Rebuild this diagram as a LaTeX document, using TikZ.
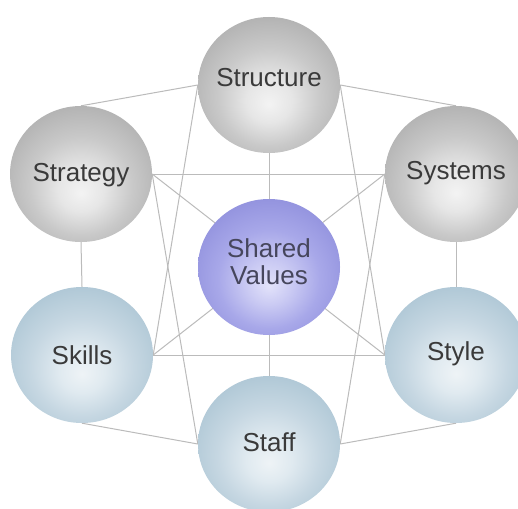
\documentclass[tikz,border=0pt]{standalone}
\usepackage{fontspec}
\setmainfont{Liberation Sans}
\usetikzlibrary{shapes.geometric,backgrounds}
\definecolor{gC}{HTML}{F3F3F3}\definecolor{gA}{HTML}{E6E6E6}\definecolor{gB}{HTML}{C9C9C9}\definecolor{gD}{HTML}{BABABA}\definecolor{gE}{HTML}{ABABAB}
\definecolor{pC}{HTML}{E2E2FA}\definecolor{pA}{HTML}{CACAF3}\definecolor{pB}{HTML}{A8A8E9}\definecolor{pD}{HTML}{9A9AE2}\definecolor{pE}{HTML}{8C8CDA}
\definecolor{bC}{HTML}{EEF3F6}\definecolor{bA}{HTML}{E0EAF0}\definecolor{bB}{HTML}{C6D7E2}\definecolor{bD}{HTML}{B7CDDA}\definecolor{bE}{HTML}{A8C2D2}
\definecolor{linec}{HTML}{BBBBBB}
\definecolor{txtc}{HTML}{3A3A3A}
\definecolor{txtp}{HTML}{46465C}
\pgfdeclareradialshading{graysph}{\pgfpoint{0bp}{-7bp}}{color(0bp)=(gC); color(8bp)=(gA); color(18bp)=(gB); color(25bp)=(gD); color(32bp)=(gE); color(50bp)=(gE)}
\pgfdeclareradialshading{purpsph}{\pgfpoint{0bp}{-7bp}}{color(0bp)=(pC); color(8bp)=(pA); color(18bp)=(pB); color(25bp)=(pD); color(32bp)=(pE); color(50bp)=(pE)}
\pgfdeclareradialshading{bluesph}{\pgfpoint{0bp}{-7bp}}{color(0bp)=(bC); color(8bp)=(bA); color(18bp)=(bB); color(25bp)=(bD); color(32bp)=(bE); color(50bp)=(bE)}
\tikzset{
  sph/.style={ellipse, minimum width=142pt, minimum height=136pt, inner sep=0pt},
  graysphere/.style={sph, shading=graysph},
  purpsphere/.style={sph, shading=purpsph},
  bluesphere/.style={sph, shading=bluesph},
  lab/.style={font=\fontsize{26}{27}\selectfont, text=txtc, align=center},
  labp/.style={lab, text=txtp},
  conn/.style={draw=linec, line width=1pt}
}
\begin{document}
\begin{tikzpicture}[x=1pt,y=-1pt]
\useasboundingbox (0,0) rectangle (518,508);
\node[graysphere, label={[lab, yshift=7pt]center:Structure}] (structure) at (269,85) {};
\node[graysphere, label={[lab, yshift=-1pt]center:Strategy}] (strategy) at (81,174) {};
\node[graysphere, label={[lab, yshift=1pt]center:Systems}] (systems) at (456,174) {};
\node[purpsphere, label={[labp, yshift=5pt]center:Shared\\Values}] (shared) at (269,267) {};
\node[bluesphere, label={[lab]center:Skills}] (skills) at (82,355) {};
\node[bluesphere, label={[lab, yshift=1pt]center:Style}] (style) at (456,355) {};
\node[bluesphere, label={[lab, yshift=2pt]center:Staff}] (staff) at (269,444) {};
\begin{scope}[on background layer]
\fill[white] (0,0) rectangle (518,508);
\draw[conn] (strategy.north) -- (structure.west);
\draw[conn] (structure.east) -- (systems.north);
\draw[conn] (strategy.east) -- (systems.west);
\draw[conn] (structure.south) -- (shared.north);
\draw[conn] (strategy.east) -- (style.west);
\draw[conn] (systems.west) -- (skills.east);
\draw[conn] (skills.east) -- (style.west);
\draw[conn] (shared.south) -- (staff.north);
\draw[conn] (skills.south) -- (staff.west);
\draw[conn] (style.south) -- (staff.east);
\draw[conn] (strategy.south) -- (skills.north);
\draw[conn] (systems.south) -- (style.north);
\draw[conn] (structure.west) -- (skills.east);
\draw[conn] (strategy.east) -- (staff.west);
\draw[conn] (structure.east) -- (style.west);
\draw[conn] (systems.west) -- (staff.east);
\end{scope}
\end{tikzpicture}
\end{document}
